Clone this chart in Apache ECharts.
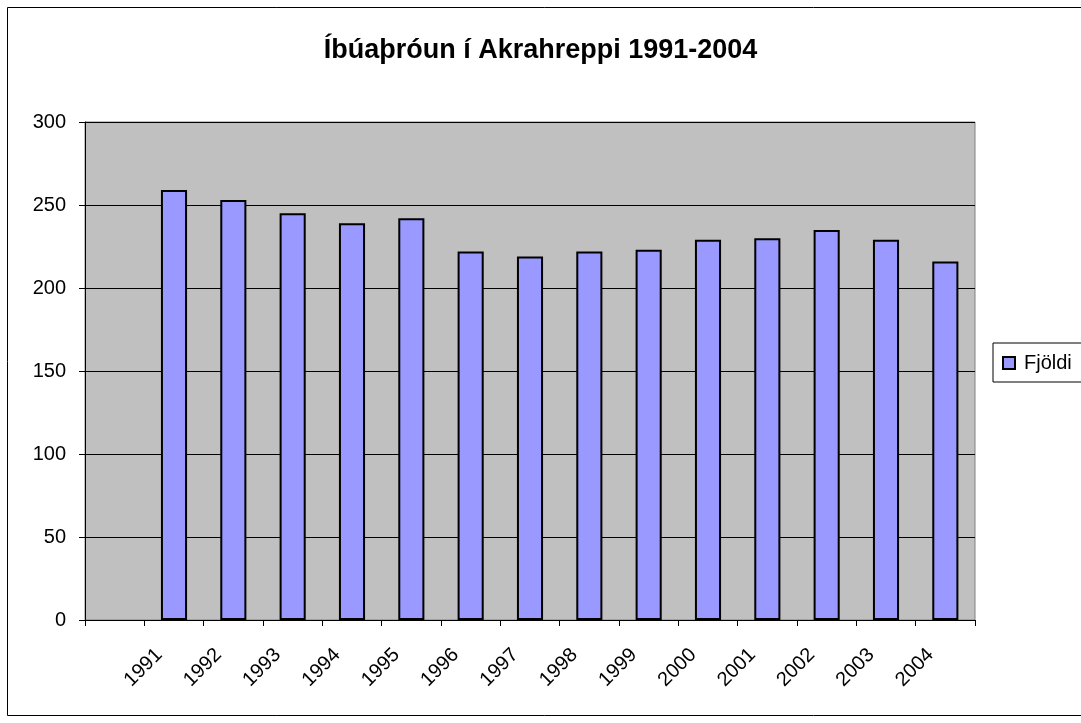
<!DOCTYPE html>
<html>
<head>
<meta charset="utf-8">
<script src="https://cdn.jsdelivr.net/npm/echarts@6/dist/echarts.min.js"></script>
<style>
  html, body { margin: 0; padding: 0; background: #fff; }
  #main { width: 1081px; height: 723px; }
</style>
</head>
<body>
<div id="main"></div>
<script>
// first category is empty in the source sheet
const years = ['', '1991', '1992', '1993', '1994', '1995', '1996', '1997', '1998', '1999', '2000', '2001', '2002', '2003', '2004'];
const fjoldi = [null, 259, 253, 245, 239, 242, 222, 219, 222, 223, 229, 230, 235, 229, 216];
const yTicks = [0, 50, 100, 150, 200, 250, 300];

const FONT = 'Liberation Sans, Arial, sans-serif';
const chart = echarts.init(document.getElementById('main'));

const option = {
  animation: false,
  textStyle: { fontFamily: FONT },
  title: {
    text: 'Íbúaþróun í Akrahreppi 1991-2004',
    left: 'center',
    top: 32,
    textStyle: { fontSize: 27, fontWeight: 'bold', color: '#000', fontFamily: FONT }
  },
  graphic: [{
    type: 'rect',
    shape: { x: 7.5, y: 7.5, width: 1100, height: 708 },
    style: { fill: 'none', stroke: '#000', lineWidth: 1 },
    silent: true
  }],
  legend: {
    left: 993,
    top: 343,
    orient: 'vertical',
    itemWidth: 12,
    itemHeight: 12,
    itemGap: 0,
    padding: [10, 20, 9, 9],
    borderColor: '#000',
    borderWidth: 1,
    backgroundColor: '#fff',
    icon: 'rect',
    textStyle: { fontSize: 20, color: '#000', padding: [0, 0, 0, 4] },
    data: ['Fjöldi']
  },
  grid: {
    left: 85,
    top: 122,
    width: 890,
    height: 498,
    show: true,
    backgroundColor: '#C0C0C0',
    borderColor: '#808080',
    borderWidth: 1
  },
  xAxis: {
    type: 'category',
    data: years,
    boundaryGap: true,
    axisLine: { lineStyle: { color: '#000', width: 1 } },
    axisTick: { show: true, length: 6, inside: false, lineStyle: { color: '#000' } },
    axisLabel: { rotate: 45, fontSize: 20, color: '#000', margin: 17, interval: 0, padding: [0, 21, 0, 0] }
  },
  yAxis: {
    type: 'value',
    min: yTicks[0],
    max: yTicks[yTicks.length - 1],
    interval: 50,
    axisLine: { show: true, lineStyle: { color: '#000', width: 1 } },
    axisTick: { show: true, length: 6, lineStyle: { color: '#000' } },
    axisLabel: { fontSize: 20, color: '#000', margin: 19 },
    splitLine: { show: true, lineStyle: { color: '#000', width: 1 } }
  },
  series: [{
    name: 'Fjöldi',
    type: 'bar',
    data: fjoldi,
    barWidth: '44%',
    itemStyle: { color: '#9999FF', borderColor: '#000', borderWidth: 2 }
  }]
};

chart.setOption(option);
</script>
</body>
</html>
